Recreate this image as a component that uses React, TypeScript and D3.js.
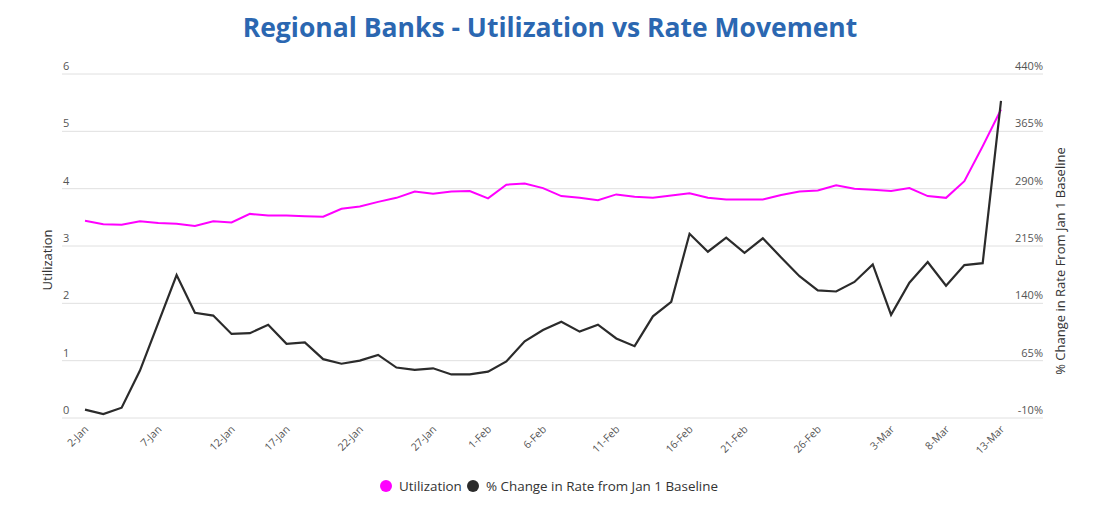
import { useEffect, useRef } from "react";
import * as d3 from "d3";

const categories = [
  "2-Jan", "3-Jan", "4-Jan", "5-Jan", "6-Jan", "9-Jan", "10-Jan", "11-Jan", "12-Jan", "13-Jan",
  "16-Jan", "17-Jan", "18-Jan", "19-Jan", "20-Jan", "23-Jan", "24-Jan", "25-Jan", "26-Jan", "27-Jan",
  "30-Jan", "31-Jan", "1-Feb", "2-Feb", "3-Feb", "6-Feb", "7-Feb", "8-Feb", "9-Feb", "10-Feb",
  "13-Feb", "14-Feb", "15-Feb", "16-Feb", "17-Feb", "20-Feb", "21-Feb", "22-Feb", "23-Feb", "24-Feb",
  "27-Feb", "28-Feb", "1-Mar", "2-Mar", "3-Mar", "6-Mar", "7-Mar", "8-Mar", "9-Mar", "10-Mar",
  "13-Mar",
];

const utilization = [
  3.44, 3.38, 3.37, 3.43, 3.4, 3.39, 3.35, 3.43, 3.41, 3.56,
  3.53, 3.53, 3.52, 3.51, 3.65, 3.69, 3.77, 3.84, 3.95, 3.91,
  3.95, 3.96, 3.83, 4.07, 4.09, 4.01, 3.87, 3.84, 3.8, 3.9,
  3.86, 3.84, 3.88, 3.92, 3.84, 3.81, 3.81, 3.81, 3.89, 3.95,
  3.97, 4.06, 4.0, 3.98, 3.96, 4.01, 3.87, 3.84, 4.13, 4.74,
  5.38,
];

const rateChange = [
  0.9, -4.8, 3.5, 52, 114.5, 177, 127.6, 124, 100, 101,
  112, 87, 89, 67, 61, 65, 72.5, 56, 53, 55,
  47, 47, 50.6, 64, 90.4, 105, 116, 103, 112, 94,
  84, 123, 142, 231, 207.5, 226, 206, 225, 200, 175.5,
  157, 155.5, 168, 191, 125, 167, 194, 163, 190, 192.5,
  405,
];

// tick text and the category it sits on
const tickLabels = [
  "2-Jan", "7-Jan", "12-Jan", "17-Jan", "22-Jan", "27-Jan", "1-Feb", "6-Feb",
  "11-Feb", "16-Feb", "21-Feb", "26-Feb", "3-Mar", "8-Mar", "13-Mar",
];
const tickAt = [
  "2-Jan", "6-Jan", "12-Jan", "17-Jan", "23-Jan", "27-Jan", "1-Feb", "6-Feb",
  "10-Feb", "16-Feb", "21-Feb", "27-Feb", "3-Mar", "8-Mar", "13-Mar",
];

const leftTicks = [0, 1, 2, 3, 4, 5, 6];
const rightTicks = [-10, 65, 140, 215, 290, 365, 440];

const seriesNames = ["Utilization", "% Change in Rate from Jan 1 Baseline"];
const seriesColors = ["#ff00ff", "#2b2b2b"];

export default function App() {
  const width = 1100;
  const height = 506;
  const margin = { top: 74, right: 57, bottom: 88, left: 62 };
  const svgRef = useRef<SVGSVGElement>(null);

  useEffect(() => {
    const svg = d3.select(svgRef.current);
    svg.selectAll("*").remove();
    const font = "'Open Sans', sans-serif";

    const x = d3
      .scalePoint<string>()
      .domain(categories)
      .range([85, 1001]);

    const yLeft = d3
      .scaleLinear()
      .domain([0, 6])
      .range([height - margin.bottom, margin.top]);

    const yRight = d3
      .scaleLinear()
      .domain([-10, 440])
      .range([height - margin.bottom, margin.top]);

    const gridRight = width - margin.right;

    // title
    svg
      .append("text")
      .attr("x", 550)
      .attr("y", 37)
      .attr("text-anchor", "middle")
      .attr("font-family", font)
      .attr("font-weight", 700)
      .attr("font-size", 26.5)
      .attr("fill", "#2b67b1")
      .text("Regional Banks - Utilization vs Rate Movement");

    // grid
    svg
      .append("g")
      .selectAll("line")
      .data(leftTicks)
      .join("line")
      .attr("x1", margin.left)
      .attr("x2", gridRight)
      .attr("y1", (d) => yLeft(d))
      .attr("y2", (d) => yLeft(d))
      .attr("stroke", "#e0e0e0")
      .attr("stroke-width", 1);

    // left ticks
    svg
      .append("g")
      .selectAll("text")
      .data(leftTicks)
      .join("text")
      .attr("x", margin.left + 1)
      .attr("y", (d) => yLeft(d) - 4)
      .attr("font-family", font)
      .attr("font-size", 11)
      .attr("fill", "#555")
      .text((d) => d);

    // right ticks
    svg
      .append("g")
      .selectAll("text")
      .data(rightTicks)
      .join("text")
      .attr("x", gridRight)
      .attr("y", (d) => yRight(d) - 4)
      .attr("text-anchor", "end")
      .attr("font-family", font)
      .attr("font-size", 11)
      .attr("fill", "#555")
      .text((d) => `${d}%`);

    // x labels
    svg
      .append("g")
      .selectAll("text")
      .data(tickLabels)
      .join("text")
      .attr(
        "transform",
        (_, i) => `translate(${(x(tickAt[i]) ?? 0) + 4}, ${height - margin.bottom + 12}) rotate(-45)`
      )
      .attr("text-anchor", "end")
      .attr("font-family", font)
      .attr("font-size", 10.5)
      .attr("fill", "#555")
      .text((d) => d);

    // axis titles
    svg
      .append("text")
      .attr("transform", "rotate(-90)")
      .attr("x", -260)
      .attr("y", 52)
      .attr("text-anchor", "middle")
      .attr("font-family", font)
      .attr("font-size", 13)
      .attr("fill", "#333")
      .text("Utilization");

    svg
      .append("text")
      .attr("transform", "rotate(-90)")
      .attr("x", -261)
      .attr("y", 1065)
      .attr("text-anchor", "middle")
      .attr("font-family", font)
      .attr("font-size", 13)
      .attr("fill", "#333")
      .text("% Change in Rate From Jan 1 Baseline");

    // lines
    const lineLeft = d3
      .line<number>()
      .x((_, i) => x(categories[i]) ?? 0)
      .y((d) => yLeft(d));

    const lineRight = d3
      .line<number>()
      .x((_, i) => x(categories[i]) ?? 0)
      .y((d) => yRight(d));

    svg
      .append("path")
      .datum(utilization)
      .attr("d", lineLeft)
      .attr("fill", "none")
      .attr("stroke", seriesColors[0])
      .attr("stroke-width", 2);

    svg
      .append("path")
      .datum(rateChange)
      .attr("d", lineRight)
      .attr("fill", "none")
      .attr("stroke", seriesColors[1])
      .attr("stroke-width", 2.2)
      .attr("stroke-linejoin", "miter");

    // legend
    const legend = svg.append("g").attr("transform", "translate(386, 486)");
    const offsets = [0, 87];
    seriesNames.forEach((name, i) => {
      const g = legend.append("g").attr("transform", `translate(${offsets[i]}, 0)`);
      g.append("circle").attr("r", 6).attr("fill", seriesColors[i]);
      g.append("text")
        .attr("x", 13)
        .attr("y", 5)
        .attr("font-family", font)
        .attr("font-size", 13.4)
        .attr("fill", "#333")
        .text(name);
    });
  }, []);

  return (
    <svg
      ref={svgRef}
      width={width}
      height={height}
      style={{ position: "absolute", left: 0, top: 0, background: "#fff" }}
    />
  );
}
